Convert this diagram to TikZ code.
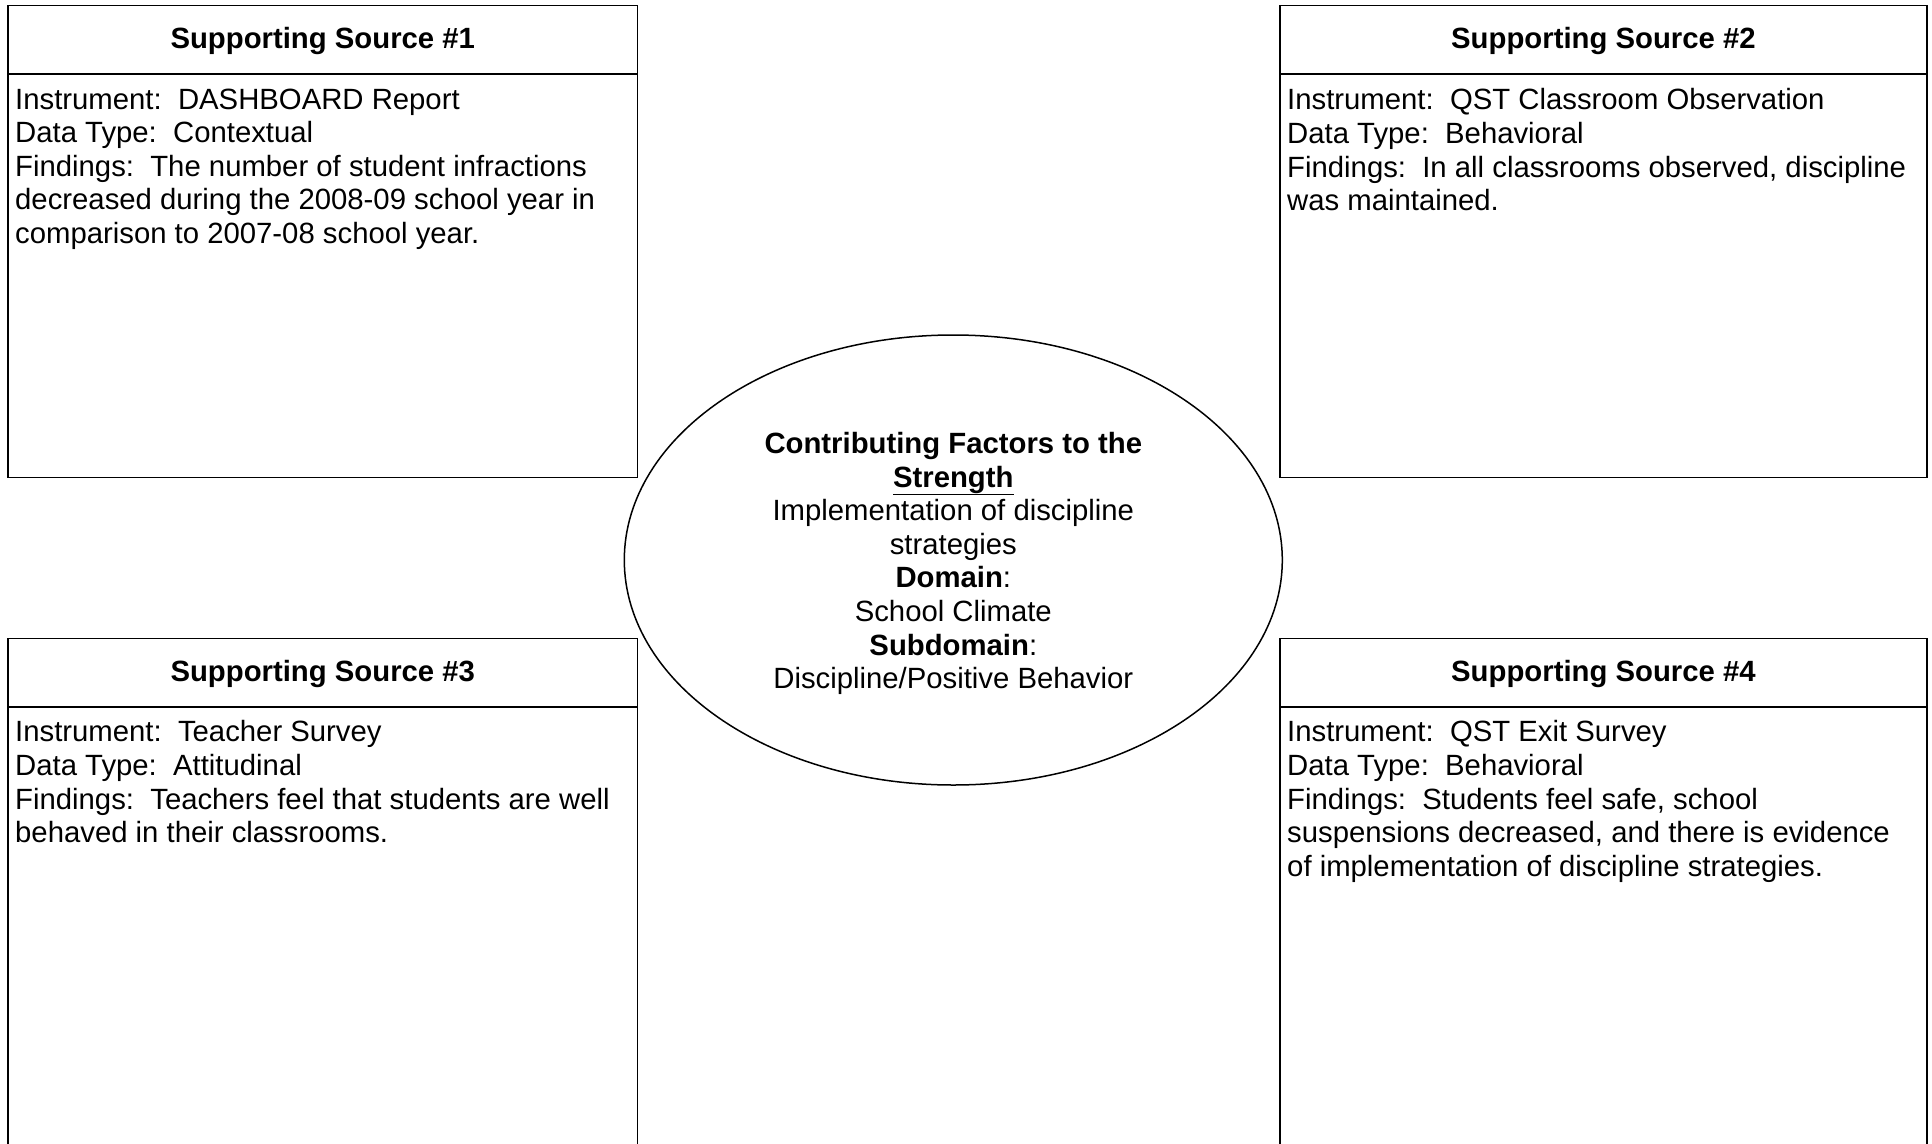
\documentclass[tikz,border=0pt]{standalone}
\usepackage{fontspec}
\setmainfont{Liberation Sans}
\usetikzlibrary{shapes.geometric}
\tikzset{
  frame/.style={draw=black, line width=1.5pt, inner sep=0pt, anchor=north west},
  headtxt/.style={font=\fontsize{29.3}{33.6}\selectfont\bfseries, inner sep=0pt, yshift=-1.5pt},
  bodytxt/.style={font=\fontsize{29.3}{33.6}\selectfont, align=left, anchor=north west, inner sep=0pt},
  centre/.style={draw=black, line width=1.5pt, ellipse, inner sep=0pt, minimum width=658pt, minimum height=450pt, fill=white},
  centretxt/.style={align=center, inner sep=0pt, font=\fontsize{29.3}{33.6}\selectfont, yshift=-3.5pt}
}
\begin{document}
\begin{tikzpicture}[x=1pt,y=-1pt]
\useasboundingbox (0,0) rectangle (1932,1143);
\clip (0,0) rectangle (1932,1143);
% box 1
\node[frame, minimum width=629.4pt, minimum height=472.2pt] (b1) at (7.3,4.5) {};
\node[frame, minimum width=629.4pt, minimum height=68.8pt] (h1) at (7.3,4.5) {};
\node[headtxt] (t1) at (h1.center) {Supporting Source \#1};
\node[bodytxt] (x1) at (15,88.5) {Instrument:\ \ DASHBOARD Report\\Data Type:\ \ Contextual\\Findings:\ \ The number of student infractions\\decreased during the 2008-09 school year in\\comparison to 2007-08 school year.};
% box 2
\node[frame, minimum width=647.3pt, minimum height=472.2pt] (b2) at (1279,4.5) {};
\node[frame, minimum width=647.3pt, minimum height=68.8pt] (h2) at (1279,4.5) {};
\node[headtxt] (t2) at (h2.center) {Supporting Source \#2};
\node[bodytxt] (x2) at (1287,88.5) {Instrument:\ \ QST Classroom Observation\\Data Type:\ \ Behavioral\\Findings:\ \ In all classrooms observed, discipline\\was maintained.};
% box 3
\node[frame, minimum width=629.4pt, minimum height=540pt] (b3) at (7.3,637.7) {};
\node[frame, minimum width=629.4pt, minimum height=68.3pt] (h3) at (7.3,637.7) {};
\node[headtxt] (t3) at (h3.center) {Supporting Source \#3};
\node[bodytxt] (x3) at (15,720.5) {Instrument:\ \ Teacher Survey\\Data Type:\ \ Attitudinal\\Findings:\ \ Teachers feel that students are well\\behaved in their classrooms.};
% box 4
\node[frame, minimum width=647.3pt, minimum height=540pt] (b4) at (1279,637.7) {};
\node[frame, minimum width=647.3pt, minimum height=68.3pt] (h4) at (1279,637.7) {};
\node[headtxt] (t4) at (h4.center) {Supporting Source \#4};
\node[bodytxt] (x4) at (1287,720.5) {Instrument:\ \ QST Exit Survey\\Data Type:\ \ Behavioral\\Findings:\ \ Students feel safe, school\\suspensions decreased, and there is evidence\\of implementation of discipline strategies.};
% centre ellipse
\node[centre] (c) at (953.3,560) {};
\node[centretxt] (ct) at (c.center) {\textbf{Contributing Factors to the}\\\textbf{\underline{Strength}}\\Implementation of discipline\\strategies\\\textbf{Domain}:\\School Climate\\\textbf{Subdomain}:\\Discipline/Positive Behavior};
\end{tikzpicture}
\end{document}
